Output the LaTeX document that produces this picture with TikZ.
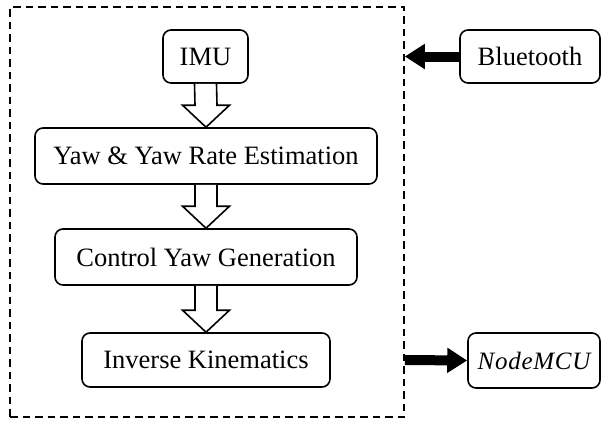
\documentclass[tikz,border=0pt]{standalone}
\usepackage{fontspec}
\setmainfont{Liberation Serif}
\usetikzlibrary{arrows.meta,calc}
\newcommand\hollowarrow[2]{%
  \draw[hollow] ($(#1.south)+(-11,0)$) -- ($(#2.north)+(-11,-22)$) -- ($(#2.north)+(-23.5,-22)$) -- (#2.north)
    -- ($(#2.north)+(23.5,-22)$) -- ($(#2.north)+(11,-22)$) -- ($(#1.south)+(11,0)$);}
\begin{document}
\begin{tikzpicture}[x=1pt,y=-1pt,
  box/.style={draw,line width=1.6pt,rounded corners=8pt,font=\fontsize{26.5}{30}\selectfont,inner sep=0pt,fill=white},
  frame/.style={draw,line width=1.6pt,dash pattern=on 7.5pt off 5pt,inner sep=0pt},
  hollow/.style={draw,line width=1.6pt,fill=white,line join=miter},
  thick arrow/.style={line width=10pt,-{Triangle[length=20pt,width=24pt]}}]
\useasboundingbox (0,0) rectangle (602,421);
\node[frame,minimum width=394pt,minimum height=410pt] (frame) at (207,212) {};
\node[box,minimum width=85pt,minimum height=53pt] (imu) at (205.5,56.5) {IMU};
\node[box,minimum width=342pt,minimum height=56pt] (yaw) at (206,156) {Yaw \& Yaw Rate Estimation};
\node[box,minimum width=302pt,minimum height=56pt] (ctrl) at (206,257) {Control Yaw Generation};
\node[box,minimum width=248pt,minimum height=54pt] (ik) at (206,360) {Inverse Kinematics};
\node[box,minimum width=140pt,minimum height=53pt] (bt) at (530,56.5) {Bluetooth};
\node[box,minimum width=132pt,minimum height=55pt] (mcu) at (534,360.5) {\fontsize{25}{30}\selectfont\itshape\addfontfeatures{LetterSpace=3}NodeMCU};
\hollowarrow{imu}{yaw}
\hollowarrow{yaw}{ctrl}
\hollowarrow{ctrl}{ik}
\draw[thick arrow] (bt.west) -- (bt.west -| frame.east);
\draw[thick arrow] (ik.east -| frame.east) -- (mcu.west);
\end{tikzpicture}
\end{document}
